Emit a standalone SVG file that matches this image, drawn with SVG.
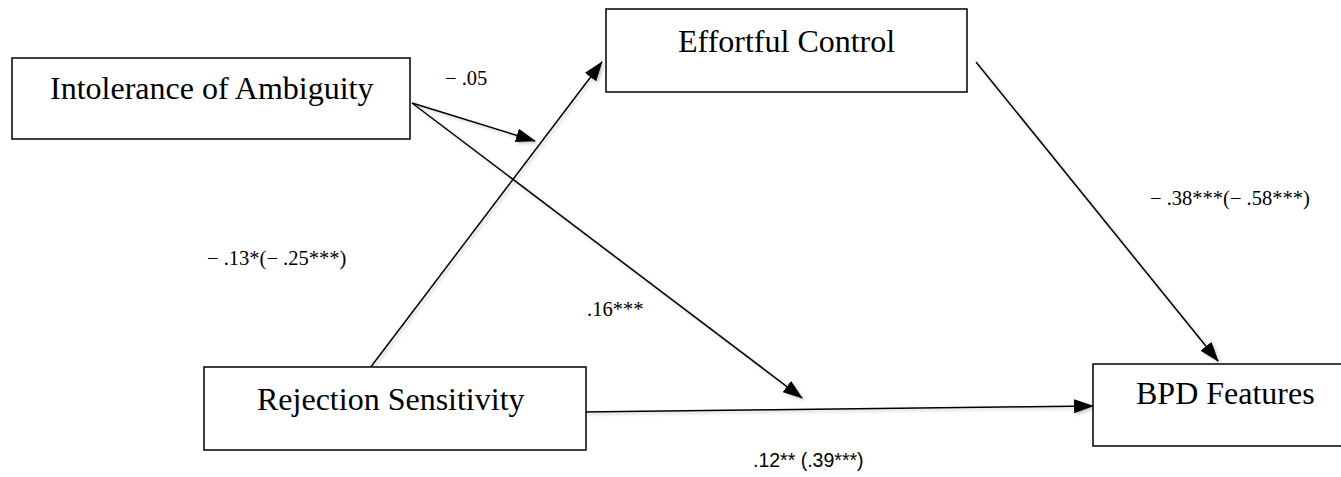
<svg xmlns="http://www.w3.org/2000/svg" width="1341" height="477" viewBox="0 0 1341 477">
<defs>
<style>
.box{fill:#fff;stroke:#000;stroke-width:1.5}
.node{font-family:"Liberation Serif","Times New Roman",serif;font-size:32px;fill:#000}
.lbl{font-family:"Liberation Serif","Times New Roman",serif;font-size:20.5px;fill:#000}
.sans{font-family:"Liberation Sans",Arial,sans-serif;font-size:19.5px;fill:#000}
.conn line{stroke:#000;stroke-width:1.5;fill:none;marker-end:url(#ah)}
</style>
<marker id="ah" viewBox="0 0 20 14" refX="19" refY="7" markerWidth="20" markerHeight="14" markerUnits="userSpaceOnUse" orient="auto">
<path d="M0,0 L20,7 L0,14 Z" fill="#000"/>
</marker>
<filter id="sh" x="-10%" y="-10%" width="120%" height="120%">
<feDropShadow dx="2" dy="2" stdDeviation="1.5" flood-color="#000" flood-opacity="0.2"/>
</filter>
</defs>
<rect width="1341" height="477" fill="#fff"/>
<g id="connectors" class="conn" filter="url(#sh)">
<line x1="412" y1="103" x2="535" y2="141"/>
<line x1="412" y1="103" x2="802" y2="398"/>
<line x1="370" y1="368" x2="602" y2="62"/>
<line x1="976" y1="62" x2="1218" y2="361"/>
<line x1="582" y1="412" x2="1093" y2="406"/>
</g>
<g id="intolerance">
<rect class="box" x="12" y="58" width="398" height="81"/>
<text class="node" x="50" y="99">Intolerance of Ambiguity</text>
</g>
<g id="effortful">
<rect class="box" x="606" y="9" width="361" height="83"/>
<text class="node" x="678" y="52">Effortful Control</text>
</g>
<g id="rejection">
<rect class="box" x="204" y="367" width="382" height="83"/>
<text class="node" x="257" y="410">Rejection Sensitivity</text>
</g>
<g id="bpd">
<rect class="box" x="1093" y="364" width="260" height="82"/>
<text class="node" x="1136" y="404">BPD Features</text>
</g>
<g id="labels">
<text class="lbl" x="445" y="85">− .05</text>
<text class="lbl" x="207" y="265">− .13*(− .25***)</text>
<text class="lbl" x="587" y="316">.16***</text>
<text class="lbl" x="1150" y="205">− .38***(− .58***)</text>
<text class="sans" x="753" y="467">.12** (.39***)</text>
</g>
</svg>
